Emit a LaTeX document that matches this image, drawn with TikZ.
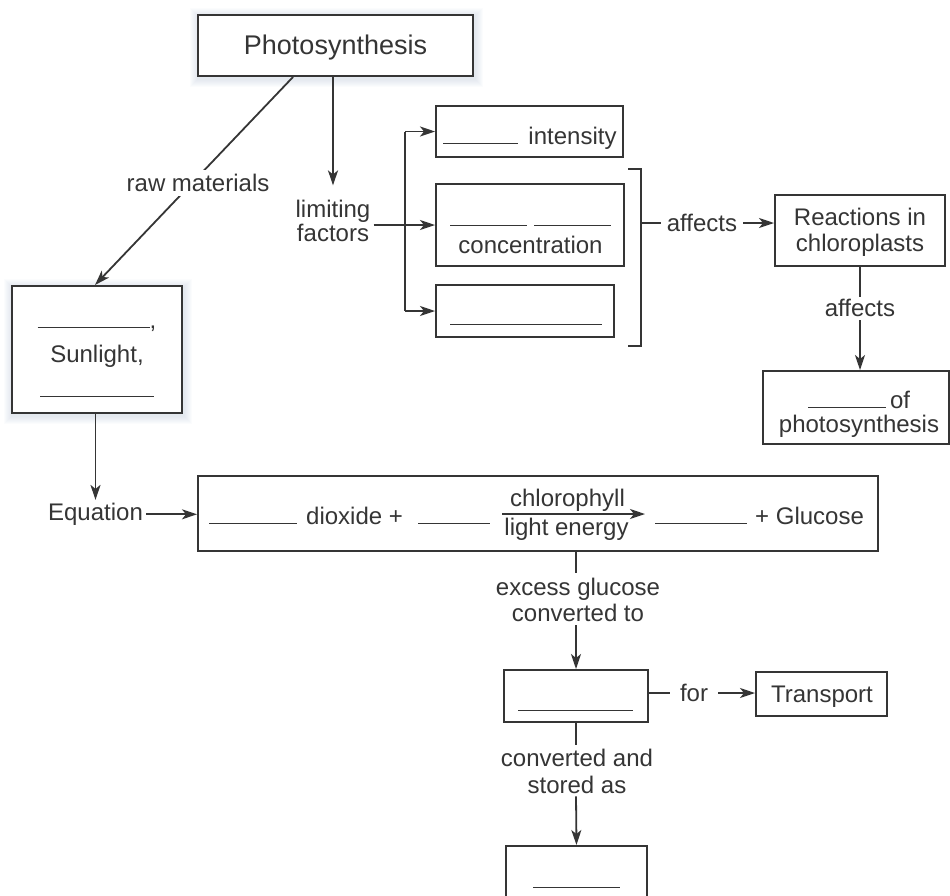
\documentclass[tikz,border=0pt]{standalone}
\usepackage{fontspec}
\setmainfont{Liberation Sans}
\usetikzlibrary{arrows.meta,calc}
\definecolor{ink}{HTML}{353535}
\definecolor{shcol}{HTML}{A9BCCD}
\newcommand\fsz{\fontsize{24}{26}\selectfont}
\newcommand\blnk[1]{\rule{#1}{1.5pt}}
\pgfdeclarelayer{back}\pgfdeclarelayer{shad}\pgfsetlayers{back,shad,main}
\begin{document}
\begin{tikzpicture}[x=1pt,y=-1pt]
\tikzset{
 box/.style={draw=ink, line width=2pt, fill=white, inner sep=0pt},
 txt/.style={text=ink, font=\fsz, align=center, inner sep=0pt},
 lbl/.style={text=ink, font=\fsz, align=center, inner sep=3pt},
 ln/.style={draw=ink, line width=1.8pt},
 arr/.style={ln, -{Stealth[length=15pt,width=10pt,inset=4pt]}},
}
\useasboundingbox (0,0) rectangle (950,895);
\begin{pgfonlayer}{back}
\fill[white] (0,0) rectangle (950,895);
\end{pgfonlayer}

% boxes
\node[box, minimum width=275pt, minimum height=61pt] (photo) at (335.5,45.5) {};
\node[txt, anchor=base, font=\fontsize{27}{30}\selectfont] (photoT) at (335.5,54) {Photosynthesis};

\node[box, minimum width=170pt, minimum height=127pt] (sun) at (97,349.5) {};
\node[txt, anchor=base, font=\fontsize{24}{34.5}\selectfont] (sunT) at (97,397) {\blnk{112pt},\\Sunlight,\\\blnk{114pt}};

\node[box, minimum width=187pt, minimum height=51pt] (inten) at (529.5,131.5) {};
\node[txt, anchor=base] (intenT) at (530,144) {\blnk{75pt}\hspace{10pt}intensity};

\node[box, minimum width=188pt, minimum height=82pt] (conc) at (530,225) {};
\node[txt, anchor=base, font=\fontsize{24}{27}\selectfont] (concT) at (530.5,253) {\blnk{77pt}\hspace{7pt}\blnk{77pt}\\concentration};

\node[box, minimum width=178pt, minimum height=52pt] (third) at (525,311) {};
\node[txt, anchor=base] (thirdT) at (526,325) {\blnk{152pt}};

\node[box, minimum width=170pt, minimum height=71pt] (react) at (860,230.5) {};
\node[txt, anchor=base] (reactT) at (860,251.5) {Reactions in\\chloroplasts};

\node[box, minimum width=186pt, minimum height=73pt] (rate) at (856,407.5) {};
\node[txt, anchor=base, font=\fontsize{24}{24}\selectfont] (rateT) at (859,432) {\blnk{78pt}\hspace{4pt}of\\photosynthesis};

\node[box, minimum width=680pt, minimum height=75pt] (eq) at (538,513.5) {};
\node[txt, anchor=base west] (e1) at (209,524) {\blnk{88pt}};
\node[txt, anchor=base west] (e2) at (306,524) {dioxide +};
\node[txt, anchor=base west] (e3) at (418,524) {\blnk{72pt}};
\node[txt, anchor=base] (chl) at (567.5,506.5) {chlorophyll};
\node[txt, anchor=base] (lte) at (566.5,535) {light energy};
\node[txt, anchor=base west] (e4) at (655,524) {\blnk{92pt}};
\node[txt, anchor=base west] (e5) at (755,524) {+ Glucose};
\coordinate (ea) at (502,514);
\coordinate (eb) at (645,514);

\node[box, minimum width=144pt, minimum height=52pt] (suc) at (576,696) {};
\node[txt, anchor=base] (sucT) at (575.5,711) {\blnk{115pt}};

\node[box, minimum width=131pt, minimum height=44pt] (trans) at (821.5,694) {};
\node[txt, anchor=base] (transT) at (822,702) {Transport};

\node[box, minimum width=141pt, minimum height=70pt] (bot) at (576.5,881) {};
\node[txt, anchor=base] (botT) at (576.5,888) {\blnk{87pt}};

% labels
\node[lbl, anchor=base, font=\fontsize{24}{24}\selectfont] (lf) at (333,241) {limiting\\factors};
\node[lbl, anchor=base] (eqL) at (95.5,520.5) {Equation};
\node[lbl, text height=17pt, text depth=0pt, inner xsep=6pt] (aff) at (702,223) {affects};
\node[lbl, anchor=base, inner sep=4pt] (exL) at (578,621) {excess glucose\\converted to};
\node[lbl, text height=17pt, text depth=0pt, inner xsep=10pt] (forL) at (694,693) {for};
\node[lbl, anchor=base, font=\fontsize{24}{27}\selectfont] (stL) at (577,793) {converted and\\stored as};

% bracket
\coordinate (br1) at (628,169);
\coordinate (br2) at (641,169);
\coordinate (br3) at (641,346);
\coordinate (br4) at (628,346);
\coordinate (bx) at (405,0);

% shadows
\begin{pgfonlayer}{shad}
\foreach \n in {photo,sun}{
 \foreach \i in {1,...,8}{
  \fill[shcol, opacity=0.04] ([xshift={-\i*1pt+1pt}, yshift={-\i*1pt-2pt}]\n.south west) rectangle ([xshift={\i*1pt+1pt}, yshift={\i*1pt-2pt}]\n.north east);
 }}
\end{pgfonlayer}

% connectors
\draw[arr] ([xshift=-42.5pt]photo.south) -- ([xshift=-2pt]sun.north)
  node[lbl, pos=0.51, xshift=6pt, fill=white, inner sep=4pt] (raw) {raw materials};
\draw[arr] (photo.south -| lf.north) -- ([yshift=11pt]lf.north);
\draw[arr] (lf.east |- conc.west) -- (conc.west);
\draw[ln] (bx |- inten.west) -- (bx |- third.west);
\draw[arr] (bx |- inten.west) -- (inten.west);
\draw[arr] (bx |- third.west) -- (third.west);
\draw[ln] (br1) -- (br2) -- (br3) -- (br4);
\draw[ln] (aff.west -| br2) -- (aff.west);
\draw[arr] (aff.east) -- (aff.east -| react.west);
\draw[arr] (react.south) -- (react.south |- rate.north)
  node[lbl, pos=0.4, fill=white, text height=17pt, text depth=0pt] (aff2) {affects};
\draw[arr] (sun.south -| eqL.north) -- (eqL.north);
\draw[arr] (eqL.east) -- (eqL.east -| eq.west);
\draw[arr] (ea) -- (eb);
\draw[ln] (eq.south -| suc.north) -- (suc.north |- exL.north);
\draw[arr] (suc.north |- exL.south) -- (suc.north);
\draw[ln] (forL.west -| suc.east) -- (forL.west);
\draw[arr] (forL.east) -- (forL.east -| trans.west);
\draw[ln] (suc.south) -- (suc.south |- stL.north);
\draw[arr] (suc.south |- stL.south) -- (bot.north);
\end{tikzpicture}
\end{document}
